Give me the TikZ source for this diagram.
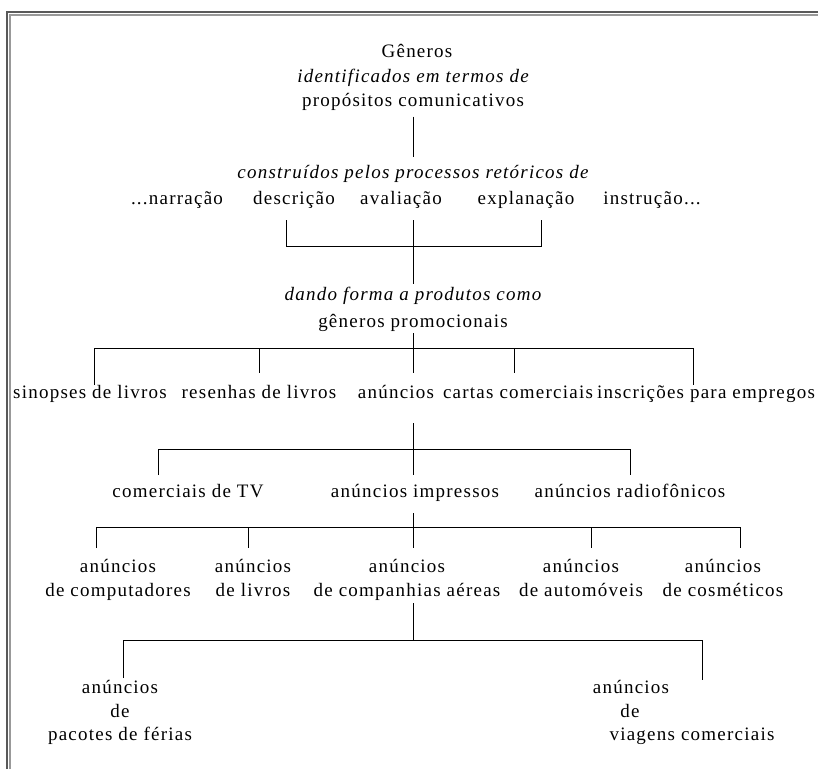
\documentclass[tikz,border=0pt]{standalone}
\usepackage{fontspec}
\setmainfont{Liberation Serif}[LetterSpace=6.5]
\usepackage{tikz}

\begin{document}
\begin{tikzpicture}[x=1pt,y=-1pt,
		lbl/.style={font=\fontsize{19}{23.5}\selectfont,inner sep=0pt,anchor=base},
		multi/.style={lbl,align=center,anchor=north},
		tree/.style={line width=0.9pt}]
	\useasboundingbox (0,0) rectangle (818,769);
	% moldura dupla
	\draw[line width=1.4pt,black!65] (7,769) -- (7,12) -- (818,12);
	\draw[line width=1.4pt,black!40] (10,769) -- (10,15) -- (818,15);
	% topo
	\node[lbl] (gen) at (417,57.5) {Gêneros};
	\node[lbl] (ident) at (413,82.5) {\itshape identificados em termos de};
	\node[lbl] (prop) at (413,106.5) {propósitos comunicativos};
	\node[lbl] (constr) at (413,178.5) {\itshape construídos pelos processos retóricos de};
	\draw[tree,shorten <=6pt,shorten >=8.5pt] (prop.south) -- (constr.north);
	% processos retoricos
	\node[lbl] (narr) at (177,204.5) {...narração};
	\node[lbl] (desc) at (294,204.5) {descrição};
	\node[lbl] (aval) at (401,204.5) {avaliação};
	\node[lbl] (expl) at (526,204.5) {explanação};
	\node[lbl] (instr) at (652,204.5) {instrução...};
	\node[lbl] (dando) at (413,300.5) {\itshape dando forma a produtos como};
	\node[lbl] (promo) at (413,327.5) {gêneros promocionais};
	\coordinate (bk) at (413,246);
	\draw[tree] (286,220) |- (541,246) -- (541,220);
	\draw[tree,shorten >=2.5pt] (413,220) -- (dando.north);
	% generos promocionais
	\coordinate (bar1) at (413,348);
	\draw[tree,shorten <=1.2pt] (promo.south) -- (bar1);
	\draw[tree] (94,385) |- (693,348) -- (693,385);
	\foreach \x in {259,413,514} \draw[tree] (\x,348) -- (\x,373);
	\node[lbl] (sinop) at (90,398.5) {sinopses de livros};
	\node[lbl] (resen) at (259,398.5) {resenhas de livros};
	\node[lbl] (anunc) at (396,398.5) {anúncios};
	\node[lbl] (cartas) at (518,398.5) {cartas comerciais};
	\node[lbl] (inscr) at (706,398.5) {inscrições para empregos};
	% anuncios
	\draw[tree] (413,423) -- (413,475);
	\draw[tree] (158,475) |- (630,449) -- (630,475);
	\node[lbl] (comtv) at (188,497.5) {comerciais de TV};
	\node[lbl] (impr) at (415,497.5) {anúncios impressos};
	\node[lbl] (radio) at (630,497.5) {anúncios radiofônicos};
	% anuncios impressos
	\draw[tree] (413,513) -- (413,548);
	\draw[tree] (96,548) |- (740,527) -- (740,548);
	\foreach \x in {248,591} \draw[tree] (\x,527) -- (\x,548);
	\node[multi] (comp) at (118,559.3) {anúncios\\de computadores};
	\node[multi] (livr) at (253,559.3) {anúncios\\de livros};
	\node[multi] (cias) at (407,559.3) {anúncios\\de companhias aéreas};
	\node[multi] (auto) at (581,559.3) {anúncios\\de automóveis};
	\node[multi] (cosm) at (723,559.3) {anúncios\\de cosméticos};
	% companhias aereas
	\draw[tree] (413,603) -- (413,640);
	\draw[tree] (123,678) |- (702,640) -- (702,680);
	\node[multi] (ferias) at (120,680.3) {anúncios\\de\\pacotes de férias};
	\node[lbl] (viag) at (631,693.5) {anúncios};
	\node[lbl] (viagde) at (630,717.5) {de};
	\node[lbl] (viagtxt) at (692,740.5) {viagens comerciais};
\end{tikzpicture}
\end{document}
